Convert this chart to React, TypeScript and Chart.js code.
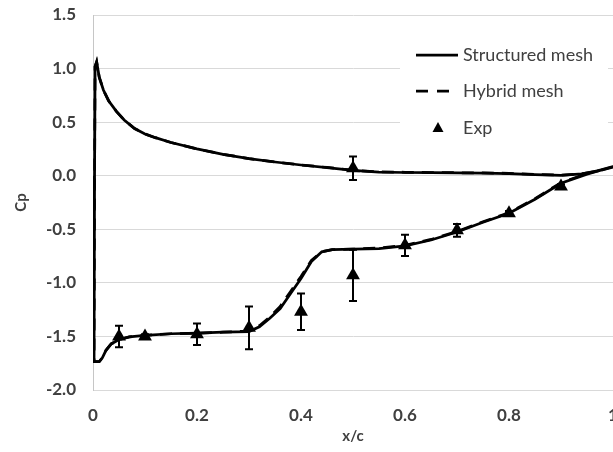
import React, { useEffect, useRef } from "react";
import { Chart, registerables } from "chart.js";

Chart.register(...registerables);

// Structured mesh: upper branch (x from 1 to leading edge) then lower branch (leading edge to 1)
const structX = [
  1.0, 0.97, 0.94, 0.9, 0.85, 0.8, 0.75, 0.7, 0.65, 0.6, 0.55, 0.5, 0.45, 0.4, 0.35, 0.3, 0.25, 0.2,
  0.15, 0.12, 0.1, 0.08, 0.06, 0.045, 0.03, 0.02, 0.012, 0.007, 0.004, 0.003, 0.002,
  0.012, 0.018, 0.025, 0.035, 0.05, 0.07, 0.1, 0.15, 0.2, 0.25, 0.3, 0.32, 0.34, 0.36, 0.38,
  0.4, 0.42, 0.44, 0.46, 0.5, 0.55, 0.6, 0.65, 0.7, 0.75, 0.8, 0.85, 0.9, 0.95, 1.0,
];
const structY = [
  0.085, 0.045, 0.018, 0.004, 0.01, 0.02, 0.025, 0.027, 0.028, 0.03, 0.033, 0.05, 0.075, 0.1, 0.128, 0.16, 0.2, 0.25,
  0.31, 0.355, 0.39, 0.44, 0.52, 0.6, 0.7, 0.8, 0.92, 1.065, 1.02, 0.0, -1.735,
  -1.735, -1.7, -1.63, -1.57, -1.53, -1.505, -1.49, -1.475, -1.47, -1.46, -1.455, -1.41, -1.33, -1.24, -1.1,
  -0.96, -0.8, -0.71, -0.69, -0.685, -0.68, -0.655, -0.6, -0.525, -0.435, -0.35, -0.22, -0.07, 0.015, 0.085,
];

// Hybrid mesh (nearly coincident with the structured mesh)
const hybridX = [
  1.0, 0.97, 0.94, 0.9, 0.85, 0.8, 0.75, 0.7, 0.65, 0.6, 0.55, 0.5, 0.45, 0.4, 0.35, 0.3, 0.25, 0.2,
  0.15, 0.12, 0.1, 0.08, 0.06, 0.045, 0.03, 0.02, 0.012, 0.007, 0.004, 0.003, 0.002,
  0.012, 0.018, 0.025, 0.035, 0.05, 0.07, 0.1, 0.15, 0.2, 0.25, 0.3, 0.32, 0.34, 0.36, 0.38,
  0.4, 0.42, 0.44, 0.46, 0.5, 0.55, 0.6, 0.65, 0.7, 0.75, 0.8, 0.85, 0.9, 0.95, 1.0,
];
const hybridY = [
  0.08, 0.043, 0.017, 0.005, 0.012, 0.022, 0.026, 0.028, 0.03, 0.032, 0.035, 0.052, 0.077, 0.1, 0.128, 0.16, 0.2, 0.25,
  0.31, 0.355, 0.39, 0.44, 0.52, 0.6, 0.7, 0.8, 0.92, 1.06, 1.02, 0.0, -1.735,
  -1.735, -1.7, -1.63, -1.57, -1.53, -1.505, -1.49, -1.475, -1.47, -1.46, -1.45, -1.4, -1.32, -1.22, -1.08,
  -0.94, -0.79, -0.71, -0.69, -0.685, -0.675, -0.65, -0.595, -0.52, -0.43, -0.345, -0.215, -0.065, 0.02, 0.08,
];

// Experimental data with error bars (half-length)
const expX = [0.05, 0.1, 0.2, 0.3, 0.4, 0.5, 0.6, 0.7, 0.8, 0.9, 0.5];
const expY = [-1.5, -1.5, -1.48, -1.42, -1.27, -0.93, -0.65, -0.51, -0.35, -0.1, 0.07];
const expErr = [0.1, 0.02, 0.1, 0.2, 0.17, 0.24, 0.1, 0.06, 0.02, 0.02, 0.11];

const xTickValues = [0, 0.2, 0.4, 0.6, 0.8, 1];
const xTickLabels = ["0", "0.2", "0.4", "0.6", "0.8", "1"];
const yTickValues = [-2, -1.5, -1, -0.5, 0, 0.5, 1, 1.5];
const yTickLabels = ["-2.0", "-1.5", "-1.0", "-0.5", "0.0", "0.5", "1.0", "1.5"];

const legendLabels = ["Structured mesh", "Hybrid mesh", "Exp"];

const TEXT = "#404040";
const FONT = "Lato";

const errorBarPlugin = {
  id: "errorBars",
  afterDatasetsDraw(chart: any) {
    const { ctx, scales } = chart;
    const xs = scales.x;
    const ys = scales.y;
    ctx.save();
    ctx.strokeStyle = "#000";
    ctx.lineWidth = 2;
    for (let i = 0; i < expX.length; i++) {
      const px = xs.getPixelForValue(expX[i]);
      const top = ys.getPixelForValue(expY[i] + expErr[i]);
      const bot = ys.getPixelForValue(expY[i] - expErr[i]);
      ctx.beginPath();
      ctx.moveTo(px, top);
      ctx.lineTo(px, bot);
      ctx.moveTo(px - 4, top);
      ctx.lineTo(px + 4, top);
      ctx.moveTo(px - 4, bot);
      ctx.lineTo(px + 4, bot);
      ctx.stroke();
    }
    ctx.restore();
  },
};

const legendPlugin = {
  id: "customLegend",
  afterDraw(chart: any) {
    const { ctx, chartArea } = chart;
    const left = chartArea.right - 213;
    const top = chartArea.top;
    ctx.save();
    ctx.fillStyle = "#fff";
    ctx.fillRect(left, top + 17, 208, 112);
    const rows = [top + 40, top + 76, top + 113];
    const sx = left + 16;
    // solid
    ctx.strokeStyle = "#000";
    ctx.lineWidth = 2.75;
    ctx.beginPath();
    ctx.moveTo(sx, rows[0]);
    ctx.lineTo(sx + 42, rows[0]);
    ctx.stroke();
    // dashed
    ctx.setLineDash([12, 9]);
    ctx.beginPath();
    ctx.moveTo(sx, rows[1]);
    ctx.lineTo(sx + 33, rows[1]);
    ctx.stroke();
    ctx.setLineDash([]);
    // triangle
    const tx = sx + 22;
    const ty = rows[2];
    ctx.fillStyle = "#000";
    ctx.beginPath();
    ctx.moveTo(tx, ty - 6);
    ctx.lineTo(tx + 5.5, ty + 4);
    ctx.lineTo(tx - 5.5, ty + 4);
    ctx.closePath();
    ctx.fill();
    ctx.fillStyle = TEXT;
    ctx.font = `18px ${FONT}`;
    ctx.textBaseline = "middle";
    ctx.textAlign = "left";
    for (let i = 0; i < legendLabels.length; i++) {
      ctx.fillText(legendLabels[i], sx + 47, rows[i]);
    }
    ctx.restore();
  },
};

export default function App() {
  const ref = useRef<HTMLCanvasElement | null>(null);
  useEffect(() => {
    if (!ref.current) return;
    const chart = new Chart(ref.current, {
      type: "scatter",
      data: {
        datasets: [
          {
            label: legendLabels[2],
            data: expX.map((x, i) => ({ x, y: expY[i] })),
            pointStyle: "triangle",
            pointRadius: 8,
            pointBackgroundColor: "#000",
            pointBorderColor: "#000",
            pointBorderWidth: 0,
            showLine: false,
            order: 0,
          },
          {
            label: legendLabels[1],
            data: hybridX.map((x, i) => ({ x, y: hybridY[i] })),
            showLine: true,
            borderColor: "#000",
            borderWidth: 2.75,
            borderDash: [12, 8],
            pointRadius: 0,
            tension: 0,
            order: 1,
          },
          {
            label: legendLabels[0],
            data: structX.map((x, i) => ({ x, y: structY[i] })),
            showLine: true,
            borderColor: "#000",
            borderWidth: 2.75,
            pointRadius: 0,
            tension: 0,
            order: 2,
          },
        ],
      },
      options: {
        responsive: false,
        animation: false,
        devicePixelRatio: 1,
        layout: { autoPadding: false, padding: { left: 0, right: 27, top: 15, bottom: 7 } },
        plugins: {
          legend: { display: false },
          tooltip: { enabled: false },
        },
        scales: {
          x: {
            type: "linear",
            min: 0,
            max: 1,
            afterBuildTicks: (s: any) => {
              s.ticks = xTickValues.map((v) => ({ value: v }));
            },
            afterFit: (s: any) => {
              s.height = 55;
              s.paddingLeft = 0;
              s.paddingRight = 0;
            },
            ticks: {
              callback: (_v: any, i: number) => xTickLabels[i],
              color: TEXT,
              font: { family: FONT, size: 17, weight: "bold" },
              padding: 15,
              maxRotation: 0,
            },
            grid: { display: false, drawTicks: false },
            border: { display: true, color: "#d9d9d9", width: 1 },
            title: {
              display: true,
              text: "x/c",
              color: TEXT,
              font: { family: FONT, size: 15, weight: "bold" },
              padding: { top: 0, bottom: 0 },
            },
          },
          y: {
            type: "linear",
            min: -2,
            max: 1.5,
            afterBuildTicks: (s: any) => {
              s.ticks = yTickValues.map((v) => ({ value: v }));
            },
            afterFit: (s: any) => {
              s.width = 93;
              s.paddingTop = 0;
              s.paddingBottom = 0;
            },
            ticks: {
              callback: (_v: any, i: number) => yTickLabels[i],
              color: TEXT,
              font: { family: FONT, size: 17, weight: "bold" },
              padding: 17,
            },
            grid: { color: "#d9d9d9", lineWidth: 1, drawTicks: false },
            border: { display: true, color: "#c6c6c6", width: 1 },
            title: {
              display: true,
              text: "Cp",
              color: TEXT,
              font: { family: FONT, size: 15, weight: "bold" },
              padding: { top: 12, bottom: 0 },
            },
          },
        },
      },
      plugins: [errorBarPlugin, legendPlugin],
    });
    return () => chart.destroy();
  }, []);
  return (
    <div
      style={{
        position: "fixed",
        left: 0,
        top: 0,
        width: 613,
        height: 452,
        overflow: "hidden",
        background: "#fff",
      }}
    >
      <canvas ref={ref} width={640} height={452} style={{ display: "block" }} />
    </div>
  );
}
